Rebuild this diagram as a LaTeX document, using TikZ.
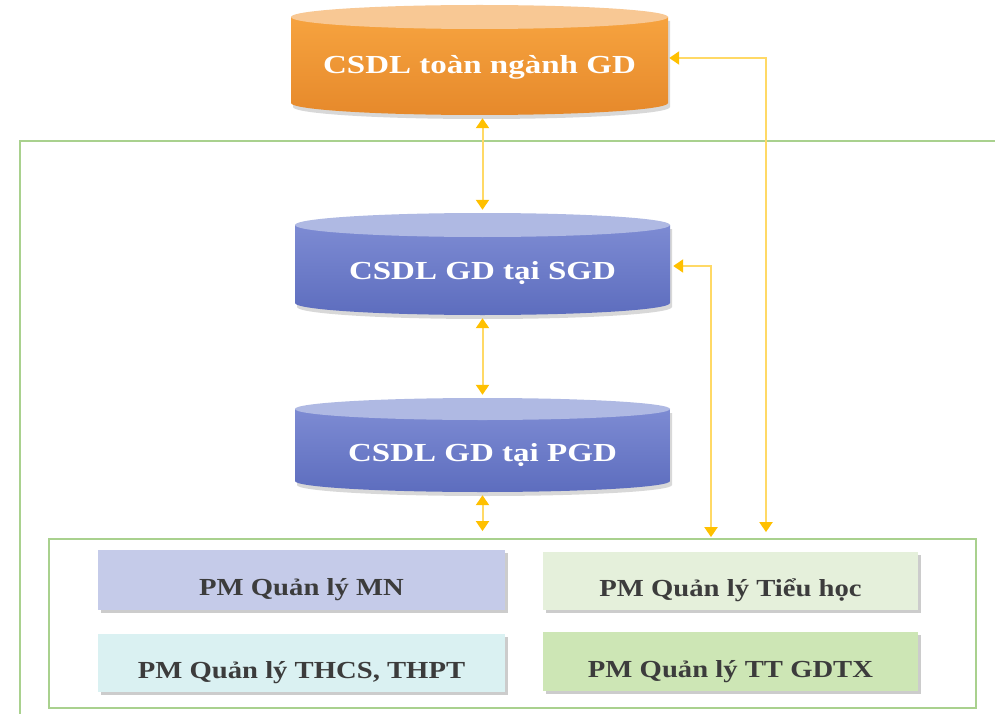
\documentclass[tikz,border=0pt]{standalone}
\usepackage{fontspec}
\setmainfont{Liberation Serif}
\newfontfamily\cylfont[FakeStretch=1.27]{Liberation Serif}
\newfontfamily\pmfont[FakeStretch=1.17]{Liberation Serif}
\usetikzlibrary{arrows.meta,shadows,calc}
\definecolor{orCap}{HTML}{F8C894}
\definecolor{orTop}{HTML}{F6A33F}
\definecolor{orBot}{HTML}{E6892B}
\definecolor{blCap}{HTML}{AFB9E3}
\definecolor{blTop}{HTML}{7D8BD3}
\definecolor{blBot}{HTML}{5D6DBE}
\definecolor{mnC}{HTML}{C5CBE9}
\definecolor{thC}{HTML}{E5F0DB}
\definecolor{csC}{HTML}{DAF1F2}
\definecolor{gdC}{HTML}{CDE6B5}
\definecolor{boxText}{HTML}{3C3C3C}
\definecolor{lineY}{HTML}{FFD966}
\definecolor{tipY}{HTML}{FFC000}
\definecolor{gBord}{HTML}{A9D18E}
\tikzset{
  conn/.style={draw=lineY, line width=2pt,
    {Triangle[width=13pt,length=10pt,color=tipY]}-{Triangle[width=13pt,length=10pt,color=tipY]}},
  gbord/.style={draw=gBord, line width=1.8pt},
  dbbox/.style={inner sep=0pt, draw=none},
  dbtext/.style={inner sep=0pt, anchor=base, text=white, font=\cylfont\bfseries\fontsize{26}{32}\selectfont},
  cylshadow/.style={drop shadow={shadow xshift=2pt, shadow yshift=-4pt, opacity=0.3}},
  pmbox/.style={inner sep=0pt, text=boxText, text height=32pt, text depth=1pt,
    font=\pmfont\bfseries\fontsize{24.5}{30}\selectfont,
    drop shadow={shadow xshift=3pt, shadow yshift=-3pt, opacity=0.4}}
}
\begin{document}
\begin{tikzpicture}[x=1pt,y=-1pt]
\useasboundingbox (0,0) rectangle (995,714);
\clip (0,0) rectangle (995,714);
\fill[white] (0,0) rectangle (995,714);

% outer frame
\draw[gbord] (20,141) rectangle (1010,730);

% top cylinder
\shade[top color=orTop, bottom color=orBot, cylshadow]
  (291,17) -- (291,103) arc[start angle=180,end angle=0,x radius=188.5,y radius=12] -- (668,17) -- cycle;
\fill[orCap] (479.5,17) ellipse[x radius=188.5, y radius=12];
\node[dbbox, minimum width=377pt, minimum height=110pt] (topdb) at (479.5,60) {};
\node[dbtext] (topdbtext) at (479.5,73.5) {CSDL toàn ngành GD};

% SGD cylinder
\shade[top color=blTop, bottom color=blBot, cylshadow]
  (295,225) -- (295,303) arc[start angle=180,end angle=0,x radius=187.5,y radius=12] -- (670,225) -- cycle;
\fill[blCap] (482.5,225) ellipse[x radius=187.5, y radius=12];
\node[dbbox, minimum width=375pt, minimum height=102pt] (sgd) at (482.5,264) {};
\node[dbtext] (sgdtext) at (482.5,279.5) {CSDL GD tại SGD};

% PGD cylinder
\shade[top color=blTop, bottom color=blBot, cylshadow]
  (295,409) -- (295,481) arc[start angle=180,end angle=0,x radius=187.5,y radius=11] -- (670,409) -- cycle;
\fill[blCap] (482.5,409) ellipse[x radius=187.5, y radius=11];
\node[dbbox, minimum width=375pt, minimum height=94pt] (pgd) at (482.5,445) {};
\node[dbtext] (pgdtext) at (482.5,461) {CSDL GD tại PGD};

% inner frame
\node[gbord, inner sep=0pt, minimum width=927pt, minimum height=169pt] (inner) at (512.5,623.5) {};

% software boxes
\node[pmbox, fill=mnC, minimum width=407pt, minimum height=60pt] (mn) at (301.5,580) {PM Quản lý MN};
\node[pmbox, fill=thC, minimum width=375pt, minimum height=58pt] (th) at (730.5,581) {PM Quản lý Tiểu học};
\node[pmbox, fill=csC, minimum width=407pt, minimum height=58pt] (cs) at (301.5,663) {PM Quản lý THCS, THPT};
\node[pmbox, fill=gdC, minimum width=375pt, minimum height=59pt] (gd) at (730.5,661.5) {PM Quản lý TT GDTX};

% connectors
\draw[conn, shorten <=3pt, shorten >=3pt] (topdb.south -| sgd.north) -- (sgd.north);
\draw[conn, shorten <=3pt, shorten >=3pt] (sgd.south) -- (pgd.north);
\draw[conn, shorten <=3pt, shorten >=7pt] (pgd.south) -- (inner.north -| pgd.south);
\coordinate (k1) at (711,266);
\draw[conn, shorten <=1pt, shorten >=3pt] (inner.north -| k1) -- (k1) -- (sgd.east |- k1);
\coordinate (k2) at (766,58);
\draw[conn, shorten <=6pt, shorten >=1pt] (inner.north -| k2) -- (k2) -- (topdb.east |- k2);
\end{tikzpicture}
\end{document}
